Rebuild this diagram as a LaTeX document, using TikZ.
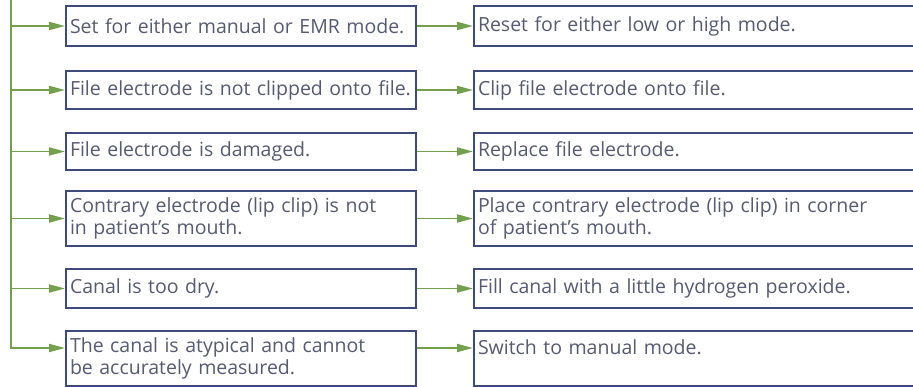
\documentclass[tikz,border=0pt]{standalone}
\usepackage{fontspec}
\setmainfont{Open Sans}
\usetikzlibrary{arrows.meta}
\definecolor{boxcol}{HTML}{3E4A7A}
\definecolor{txtcol}{HTML}{555B70}
\definecolor{grn}{HTML}{73A04E}
\begin{document}
\begin{tikzpicture}[x=1pt,y=-1pt,
  lbox/.style={draw=boxcol, line width=2pt, fill=white, text=txtcol, align=left,
    inner xsep=4pt, inner ysep=0pt, text width=342pt, anchor=north west,
    font=\fontsize{19.5}{22}\selectfont},
  rbox/.style={lbox, text width=437pt},
  conn/.style={draw=grn, line width=1.8pt},
  arr/.style={conn, -{Triangle[length=16pt,width=8pt]}}]
\useasboundingbox (0,0) rectangle (913,387);
\fill[white] (0,0) rectangle (913,387);
% left column
\node[lbox, minimum height=40pt] (L1) at (65,5) {Set for either manual or EMR mode.};
\node[lbox, minimum height=38pt] (L2) at (65,70) {File electrode is not clipped onto file.};
\node[lbox, minimum height=37pt] (L3) at (65,132) {File electrode is damaged.};
\node[lbox, minimum height=55pt] (L4) at (65,190) {Contrary electrode (lip clip) is not\\in patient’s mouth.};
\node[lbox, minimum height=39pt] (L5) at (65,268) {Canal is too dry.};
\node[lbox, minimum height=55pt] (L6) at (65,330) {The canal is atypical and cannot\\be accurately measured.};
% right column
\node[rbox, minimum height=40pt] (R1) at (473,5) {Reset for either low or high mode.};
\node[rbox, minimum height=38pt] (R2) at (473,70) {Clip file electrode onto file.};
\node[rbox, minimum height=37pt] (R3) at (473,132) {Replace file electrode.};
\node[rbox, minimum height=55pt] (R4) at (473,190) {Place contrary electrode (lip clip) in corner\\of patient’s mouth.};
\node[rbox, minimum height=39pt] (R5) at (473,268) {Fill canal with a little hydrogen peroxide.};
\node[rbox, minimum height=55pt] (R6) at (473,330) {Switch to manual mode.\\\mbox{}};
% trunk
\coordinate (top) at (11,0);
\draw[arr] (top) |- ([yshift=-18pt]L6.north west);
\foreach \i in {1,...,5}{
  \draw[arr] (top |- L\i.west) -- (L\i.west);
}
\draw[arr] (L1.east) -- (R1.west);
\draw[arr] (L2.east) -- (R2.west);
\draw[arr] (L3.east) -- (R3.west);
\draw[arr] (L4.east) -- (R4.west);
\draw[arr] (L5.east) -- (R5.west);
\draw[arr] ([yshift=-18pt]L6.north east) -- ([yshift=-18pt]R6.north west);
\end{tikzpicture}
\end{document}
